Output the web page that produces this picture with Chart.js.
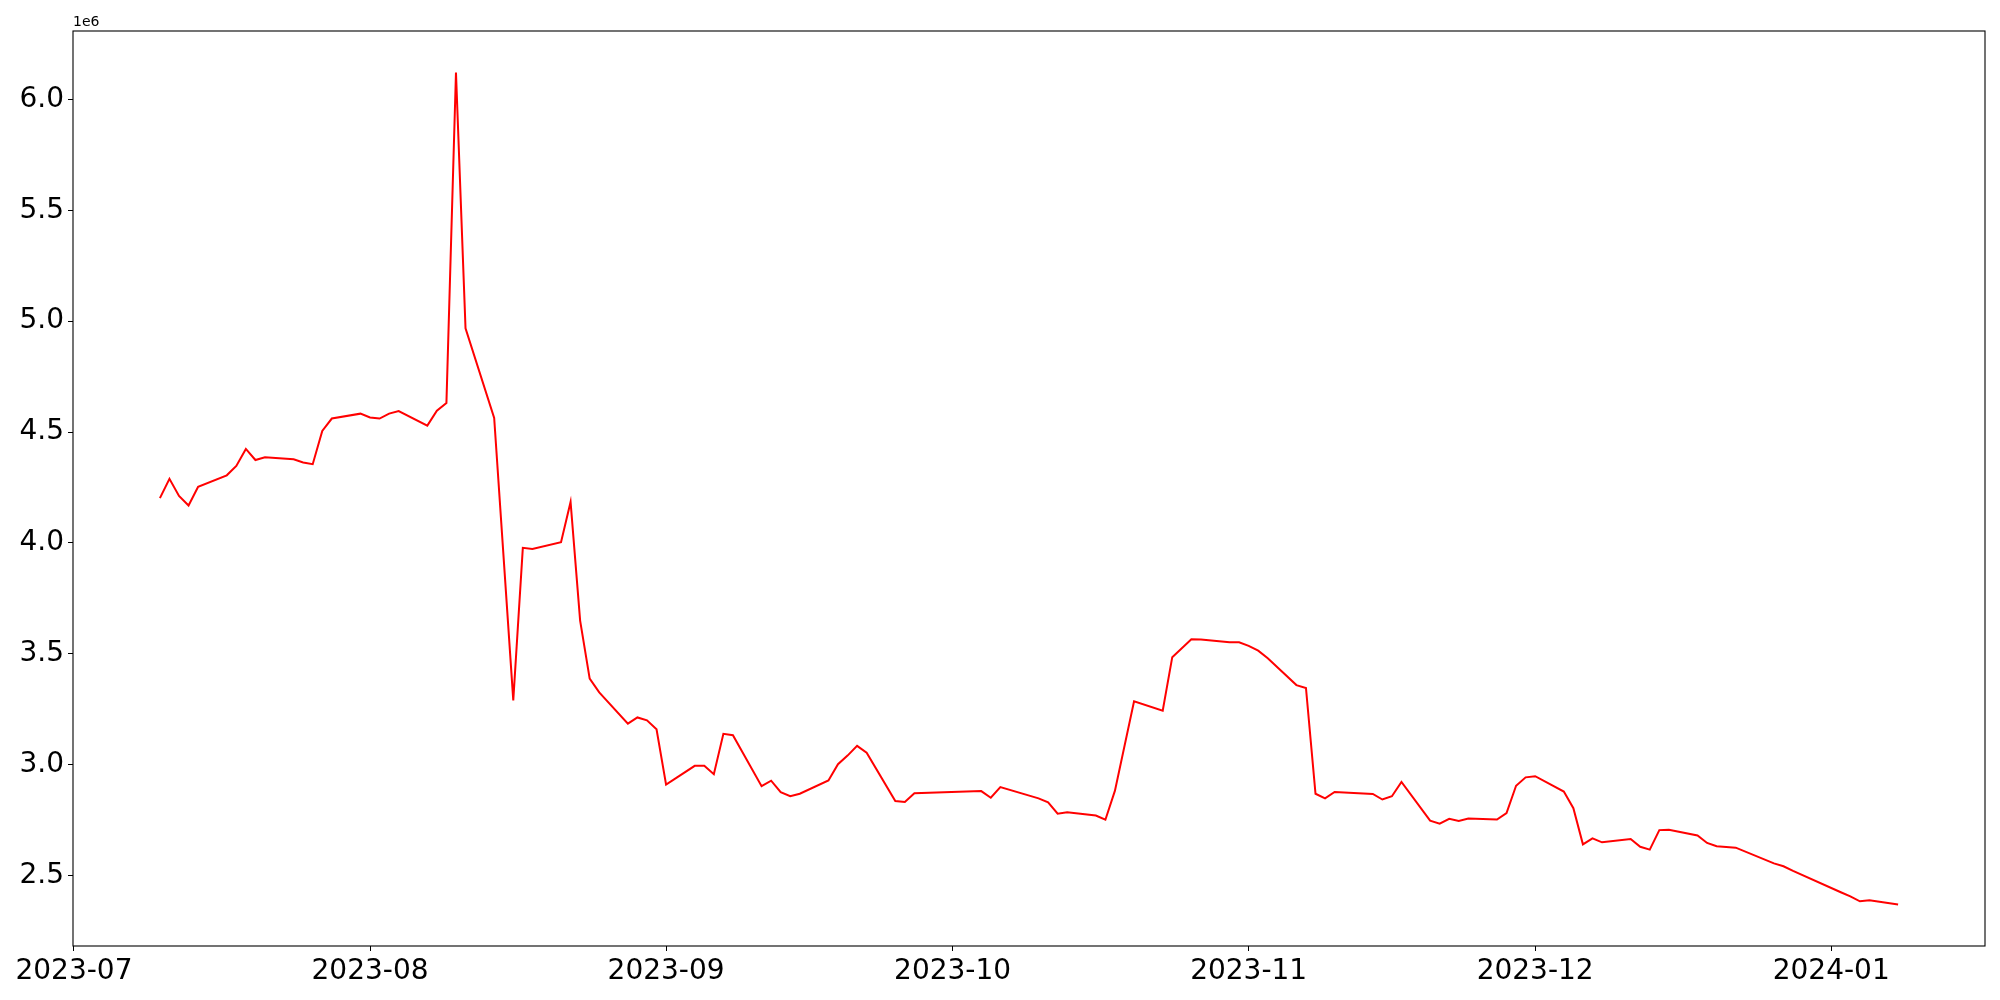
<!DOCTYPE html>
<head>
    <title>wykres</title>
    <script src="https://cdn.jsdelivr.net/npm/chart.js"></script>
    <style>
        body { margin: 0; background: white; }
        #box { width: 2000px; height: 1000px; }
    </style>
</head>
<body>
<div id="box">
    <canvas id="lineChart"></canvas>
</div>
<script>
// dni notowań
const dates = [
    '2023-07-10','2023-07-11','2023-07-12','2023-07-13','2023-07-14',
    '2023-07-17','2023-07-18','2023-07-19','2023-07-20','2023-07-21',
    '2023-07-24','2023-07-25','2023-07-26','2023-07-27','2023-07-28',
    '2023-07-31','2023-08-01','2023-08-02','2023-08-03','2023-08-04',
    '2023-08-07','2023-08-08','2023-08-09','2023-08-10','2023-08-11',
    '2023-08-14','2023-08-16','2023-08-17','2023-08-18',
    '2023-08-21','2023-08-22','2023-08-23','2023-08-24','2023-08-25',
    '2023-08-28','2023-08-29','2023-08-30','2023-08-31','2023-09-01',
    '2023-09-04','2023-09-05','2023-09-06','2023-09-07','2023-09-08',
    '2023-09-11','2023-09-12','2023-09-13','2023-09-14','2023-09-15',
    '2023-09-18','2023-09-19','2023-09-20','2023-09-21','2023-09-22',
    '2023-09-25','2023-09-26','2023-09-27',
    '2023-10-04','2023-10-05','2023-10-06',
    '2023-10-10','2023-10-11','2023-10-12','2023-10-13',
    '2023-10-16','2023-10-17','2023-10-18','2023-10-20',
    '2023-10-23','2023-10-24','2023-10-26','2023-10-27',
    '2023-10-30','2023-10-31','2023-11-01','2023-11-02','2023-11-03',
    '2023-11-06','2023-11-07','2023-11-08','2023-11-09','2023-11-10',
    '2023-11-14','2023-11-15','2023-11-16','2023-11-17',
    '2023-11-20','2023-11-21','2023-11-22','2023-11-23','2023-11-24',
    '2023-11-27','2023-11-28','2023-11-29','2023-11-30','2023-12-01',
    '2023-12-04','2023-12-05','2023-12-06','2023-12-07','2023-12-08',
    '2023-12-11','2023-12-12','2023-12-13','2023-12-14','2023-12-15',
    '2023-12-18','2023-12-19','2023-12-20','2023-12-21','2023-12-22',
    '2023-12-26','2023-12-27','2023-12-28',
    '2024-01-02','2024-01-03','2024-01-04','2024-01-05','2024-01-08'
];

// wartości
const values = [
    4202000, 4289000, 4212000, 4169000, 4253000,
    4305000, 4347000, 4424000, 4374000, 4386000,
    4377000, 4363000, 4355000, 4505000, 4561000,
    4583000, 4566000, 4561000, 4583000, 4595000,
    4529000, 4596000, 4631000, 6121000, 4968000,
    4564000, 3290000, 3978000, 3973000,
    4003000, 4185000, 3650000, 3388000, 3326000,
    3185000, 3213000, 3200000, 3160000, 2910000,
    2995000, 2995000, 2957000, 3139000, 3133000,
    2903000, 2928000, 2876000, 2858000, 2869000,
    2929000, 3002000, 3041000, 3085000, 3054000,
    2836000, 2832000, 2871000,
    2881000, 2851000, 2899000,
    2848000, 2830000, 2779000, 2786000,
    2771000, 2752000, 2883000, 3286000,
    3244000, 3485000, 3566000, 3565000,
    3552000, 3552000, 3536000, 3514000, 3480000,
    3359000, 3346000, 2869000, 2848000, 2877000,
    2868000, 2843000, 2858000, 2922000,
    2748000, 2734000, 2756000, 2746000, 2757000,
    2753000, 2782000, 2905000, 2943000, 2948000,
    2879000, 2804000, 2641000, 2668000, 2650000,
    2665000, 2630000, 2617000, 2705000, 2707000,
    2681000, 2647000, 2632000, 2629000, 2626000,
    2555000, 2542000, 2521000,
    2425000, 2406000, 2384000, 2389000, 2370000
];

// opisy osi
const xTickLabels = ['2023-07', '2023-08', '2023-09', '2023-10', '2023-11', '2023-12', '2024-01'];
const yTicks = [2.5, 3.0, 3.5, 4.0, 4.5, 5.0, 5.5, 6.0];

function toTime(s) {
    const p = s.split('-');
    return Date.UTC(+p[0], +p[1] - 1, +(p[2] || 1));
}

const xs = dates.map(toTime);
const points = xs.map((x, i) => ({x: x, y: values[i]}));

// marginesy jak w matplotlib (5%)
const xRange = xs[xs.length - 1] - xs[0];
const xMin = xs[0] - 0.05 * xRange;
const xMax = xs[xs.length - 1] + 0.05 * xRange;
const yLo = Math.min(...values), yHi = Math.max(...values);
const yMin = yLo - 0.05 * (yHi - yLo);
const yMax = yHi + 0.05 * (yHi - yLo);

const tickFont = {family: 'DejaVu Sans', size: 28};

// ramka dookoła i napis 1e6
const framePlugin = {
    id: 'frame',
    afterDraw(chart) {
        const ctx = chart.ctx;
        const a = chart.chartArea;
        ctx.save();
        ctx.strokeStyle = '#000';
        ctx.lineWidth = 1.1;
        ctx.strokeRect(a.left, a.top, a.right - a.left, a.bottom - a.top);
        ctx.fillStyle = '#000';
        ctx.font = '14px "DejaVu Sans"';
        ctx.textAlign = 'left';
        ctx.textBaseline = 'alphabetic';
        ctx.fillText('1e6', a.left, a.top - 5);
        ctx.restore();
    }
};

new Chart(document.getElementById('lineChart'), {
    type: 'line',
    data: {
        datasets: [{
            data: points,
            borderColor: 'red',
            borderWidth: 2,
            pointRadius: 0,
            tension: 0,
            fill: false
        }]
    },
    options: {
        responsive: true,
        maintainAspectRatio: false,
        animation: false,
        layout: {padding: {top: 31, right: 15, left: 0, bottom: 0}},
        plugins: {
            legend: {display: false},
            tooltip: {enabled: false}
        },
        scales: {
            x: {
                type: 'linear',
                min: xMin,
                max: xMax,
                afterBuildTicks: (scale) => {
                    scale.ticks = xTickLabels.map(l => ({value: toTime(l)}));
                },
                afterFit: (scale) => { scale.height = 54; },
                ticks: {
                    autoSkip: false,
                    maxRotation: 0,
                    padding: 4,
                    color: '#000',
                    font: tickFont,
                    callback: (v, i) => xTickLabels[i]
                },
                grid: {drawOnChartArea: false, drawTicks: true, tickLength: 5, color: '#000', tickWidth: 1},
                border: {display: false}
            },
            y: {
                type: 'linear',
                min: yMin,
                max: yMax,
                afterBuildTicks: (scale) => {
                    scale.ticks = yTicks.map(t => ({value: t * 1e6}));
                },
                afterFit: (scale) => { scale.width = 73; },
                ticks: {
                    padding: 4,
                    color: '#000',
                    font: tickFont,
                    callback: (v) => (v / 1e6).toFixed(1)
                },
                grid: {drawOnChartArea: false, drawTicks: true, tickLength: 5, color: '#000', tickWidth: 1},
                border: {display: false}
            }
        }
    },
    plugins: [framePlugin]
});
</script>
</body>
